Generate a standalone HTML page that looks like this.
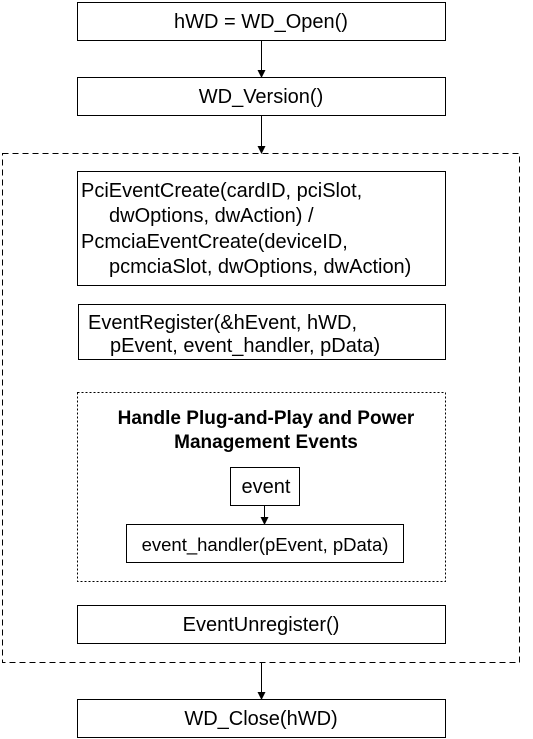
<!DOCTYPE html>
<html><head><style>body{margin:0;background:#fff}svg{display:block}</style></head>
<body>
<svg width="533" height="739" xmlns="http://www.w3.org/2000/svg" font-family="Liberation Sans, Arial, sans-serif" font-size="20">
<defs><marker id="a" markerWidth="8" markerHeight="8" refX="7" refY="4" orient="auto" markerUnits="userSpaceOnUse"><path d="M0,0 L8,4 L0,8 z" fill="#000"/></marker></defs>
<g fill="none" stroke="#000" stroke-width="1">
<rect x="77.5" y="2.5" width="368" height="38"/>
<rect x="77.5" y="77.5" width="368" height="38"/>
<rect x="2.5" y="153.5" width="517" height="509" stroke-dasharray="6,4"/>
<rect x="77.5" y="171.5" width="368" height="114"/>
<rect x="78.5" y="304.5" width="367" height="55"/>
<rect x="77.5" y="392.5" width="368" height="189" stroke-dasharray="2,2"/>
<rect x="230.5" y="467.5" width="69" height="38"/>
<rect x="126.5" y="524.5" width="277" height="38"/>
<rect x="77.5" y="605.5" width="368" height="38"/>
<rect x="77.5" y="699.5" width="368" height="38"/>
<line x1="261.5" y1="41" x2="261.5" y2="77" marker-end="url(#a)"/>
<line x1="261.5" y1="116" x2="261.5" y2="153" marker-end="url(#a)"/>
<line x1="264.5" y1="506" x2="264.5" y2="524" marker-end="url(#a)"/>
<line x1="261.5" y1="663" x2="261.5" y2="699" marker-end="url(#a)"/>
</g>
<g fill="#000">
<text x="261" y="28" text-anchor="middle">hWD = WD_Open()</text>
<text x="261" y="103" text-anchor="middle">WD_Version()</text>
<text x="81" y="197">PciEventCreate(cardID, pciSlot,</text>
<text x="109" y="222">dwOptions, dwAction) /</text>
<text x="81" y="248">PcmciaEventCreate(deviceID,</text>
<text x="109" y="273">pcmciaSlot, dwOptions, dwAction)</text>
<text x="88" y="329">EventRegister(&amp;hEvent, hWD,</text>
<text x="110" y="352">pEvent, event_handler, pData)</text>
<text x="266" y="424" text-anchor="middle" font-weight="bold" font-size="19">Handle Plug-and-Play and Power</text>
<text x="266" y="448" text-anchor="middle" font-weight="bold" font-size="19">Management Events</text>
<text x="266" y="493" text-anchor="middle">event</text>
<text x="265" y="551" text-anchor="middle" font-size="18.5">event_handler(pEvent, pData)</text>
<text x="261" y="631" text-anchor="middle">EventUnregister()</text>
<text x="261" y="725" text-anchor="middle">WD_Close(hWD)</text>
</g>
</svg>
</body></html>
